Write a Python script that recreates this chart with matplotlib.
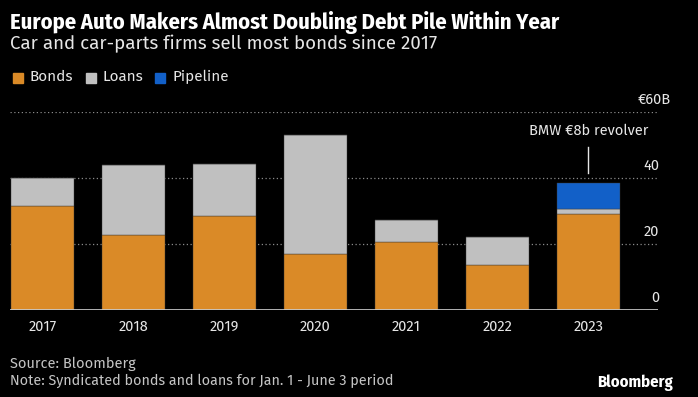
import matplotlib.pyplot as plt
from matplotlib import rcParams

rcParams['font.family'] = ['Fira Sans', 'DejaVu Sans']
BOLD_FONT = ['Fira Sans Condensed', 'DejaVu Sans']

# 数据（十亿欧元）
years = ['2017', '2018', '2019', '2020', '2021', '2022', '2023']
bonds = [31.5, 22.7, 28.5, 17.0, 20.6, 13.6, 29.0]
loans = [8.5, 21.2, 15.7, 36.0, 6.7, 8.5, 1.7]
pipeline = [0, 0, 0, 0, 0, 0, 7.8]
y_ticks = [0, 20, 40, 60]
y_tick_labels = ['0', '20', '40', '€60B']

BG = '#000000'
ORANGE = '#DA8A27'
GRAY = '#C0C0C0'
BLUE = '#1260C8'
TXT = '#E6E6E6'

W, H = 698, 397
fig = plt.figure(figsize=(W / 100, H / 100), dpi=100, facecolor=BG)


def fit_text(x, y, s, width_px, **kw):
    """
    按目标像素宽度调整字号
    """
    t = fig.text(x / W, (H - y) / H, s, **kw)
    fig.canvas.draw()
    w = t.get_window_extent().width
    t.set_fontsize(t.get_fontsize() * width_px / w)
    return t


# 坐标区：左 10px，右 658px，底 310px，顶 112px
ax = fig.add_axes([10 / W, (H - 310) / H, 648 / W, 198 / H], facecolor=BG)

x = list(range(len(years)))
width = 0.69
kw = dict(edgecolor='#3a3a3a', linewidth=0.3, zorder=3)
ax.bar(x, bonds, width, color=ORANGE, label='Bonds', **kw)
ax.bar(x, loans, width, bottom=bonds, color=GRAY, label='Loans', **kw)
base2 = [b + l for b, l in zip(bonds, loans)]
ax.bar(x, pipeline, width, bottom=base2, color=BLUE, label='Pipeline', **kw)

ax.set_xlim(-0.357, 6.764)
ax.set_ylim(0, 60)

for t in y_ticks[1:]:
    ax.axhline(t, color='#8a8a8a', lw=0.9, ls=(0, (1, 2)), zorder=1)
ax.axhline(0, color='#d0d0d0', lw=1.2, zorder=4)

for s in ax.spines.values():
    s.set_visible(False)
ax.set_yticks([])
ax.set_xticks(x)
ax.set_xticklabels(years, color=TXT, fontsize=10.5)
ax.tick_params(axis='x', length=0, pad=7)

# 右侧刻度标签，位于网格线上方
for t, lab in zip(y_ticks, y_tick_labels):
    xr = 671 if lab.startswith('€') else 659
    fig.text(xr / W, (H - 310 + t * 3.3 + 5) / H, lab, color=TXT,
             fontsize=10.5, ha='right', va='bottom')

# 注释
total_2023 = base2[-1] + pipeline[-1]
ax.plot([6, 6], [total_2023 + 3, total_2023 + 11], color=TXT, lw=1, zorder=4)
ax.text(6, total_2023 + 13.5, 'BMW €8b revolver', color=TXT, fontsize=10.5,
        ha='center', va='bottom')

# 标题
fit_text(10, 22, 'Europe Auto Makers Almost Doubling Debt Pile Within Year', 550,
         color='white', fontsize=14, fontweight='bold', va='center', family=BOLD_FONT)
fit_text(10, 44, 'Car and car-parts firms sell most bonds since 2017', 427,
         color=TXT, fontsize=13, va='center')

# 图例
lx = 13
for lab, col in [('Bonds', ORANGE), ('Loans', GRAY), ('Pipeline', BLUE)]:
    fig.patches.append(plt.Rectangle((lx / W, (H - 83) / H), 10 / W, 10 / H,
                                     color=col, transform=fig.transFigure))
    t = fig.text((lx + 17) / W, (H - 77) / H, lab, color=TXT, fontsize=11, va='center')
    fig.canvas.draw()
    bb = t.get_window_extent()
    lx = bb.x1 + 12

# 脚注
fig.text(10 / W, (H - 364) / H, 'Source: Bloomberg', color='#C4C4C4', fontsize=10.5, va='center')
fit_text(10, 381, 'Note: Syndicated bonds and loans for Jan. 1 - June 3 period', 383,
         color='#C4C4C4', fontsize=10.5, va='center')
fit_text(673, 383, 'Bloomberg', 76, color='white', fontsize=11,
         fontweight='bold', ha='right', va='center', family=BOLD_FONT)

fig.savefig('out.png', dpi=100, facecolor=BG)
